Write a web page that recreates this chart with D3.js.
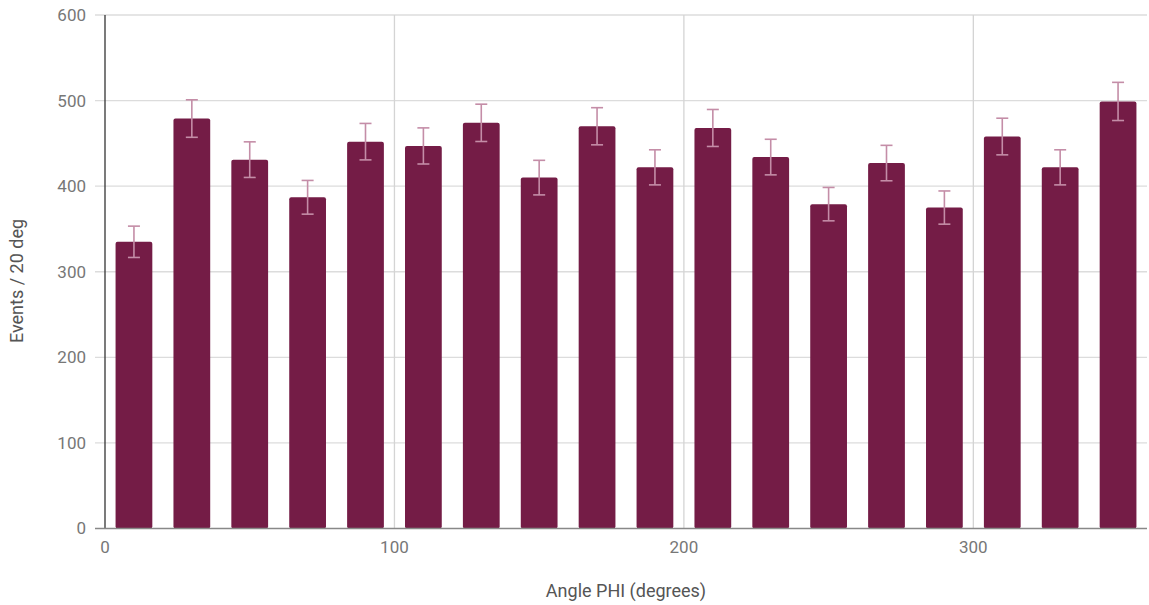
<!DOCTYPE html>
<html><head><meta charset="utf-8">
<script src="https://cdn.jsdelivr.net/npm/d3@7"></script>
<style>body{margin:0;background:#fff;}svg{display:block;font-family:Roboto,sans-serif;}</style>
</head><body>
<svg id="c" width="1149" height="605"></svg>
<script>
const angles = [10,30,50,70,90,110,130,150,170,190,210,230,250,270,290,310,330,350];
const events = [335,479,431,387,452,447,474,410,470,422,468,434,379,427,375,458,422,499];
const errors = [18.3,21.9,20.8,19.7,21.3,21.1,21.8,20.2,21.7,20.5,21.6,20.8,19.5,20.7,19.4,21.4,20.5,22.3];
const xTicks = [0,100,200,300];
const yTicks = [0,100,200,300,400,500,600];

const svg = d3.select("#c");
const L = 105, R = 1147, T = 15, B = 528.5;
const x = d3.scaleLinear().domain([0,360]).range([L,R]);
const y = d3.scaleLinear().domain([0,600]).range([B,T]);
const binW = 20, barFrac = 0.635;

// horizontal grid
svg.append("g").selectAll("line").data(yTicks.filter(d=>d>0)).join("line")
  .attr("x1",95).attr("x2",R).attr("y1",d=>y(d)).attr("y2",d=>y(d))
  .attr("stroke","#dcdcdc").attr("stroke-width",1.3);
// vertical grid
svg.append("g").selectAll("line").data(xTicks.filter(d=>d>0)).join("line")
  .attr("x1",d=>x(d)).attr("x2",d=>x(d)).attr("y1",T).attr("y2",B)
  .attr("stroke","#d4d4d4").attr("stroke-width",1.3);

// bars
const bw = x(binW*barFrac) - x(0);
svg.append("g").selectAll("rect").data(angles).join("rect")
  .attr("x",(d)=>x(d)-bw/2).attr("width",bw)
  .attr("y",(d,i)=>y(events[i])).attr("height",(d,i)=>B - y(events[i]))
  .attr("rx",2).attr("fill","#741c46");

// error bars
const eg = svg.append("g").attr("stroke","#c48da7").attr("stroke-width",1.6);
angles.forEach((a,i)=>{
  const cx = x(a), capW = 6;
  eg.append("line").attr("x1",cx).attr("x2",cx).attr("y1",y(events[i]+errors[i])).attr("y2",y(events[i]-errors[i]));
  eg.append("line").attr("x1",cx-capW).attr("x2",cx+capW).attr("y1",y(events[i]+errors[i])).attr("y2",y(events[i]+errors[i]));
  eg.append("line").attr("x1",cx-capW).attr("x2",cx+capW).attr("y1",y(events[i]-errors[i])).attr("y2",y(events[i]-errors[i]));
});

// axes lines
svg.append("line").attr("x1",L).attr("x2",L).attr("y1",T).attr("y2",B).attr("stroke","#333").attr("stroke-width",1.3);
svg.append("line").attr("x1",95).attr("x2",R).attr("y1",B).attr("y2",B).attr("stroke","#888").attr("stroke-width",1.5);

// y tick labels
svg.append("g").selectAll("text").data(yTicks).join("text")
  .attr("x",86).attr("y",d=>y(d)).attr("dy","0.35em").attr("text-anchor","end")
  .attr("font-size",17).attr("fill","#777").text(d=>d);
// x tick labels
svg.append("g").selectAll("text").data(xTicks).join("text")
  .attr("x",d=>x(d)).attr("y",553).attr("text-anchor","middle")
  .attr("font-size",17).attr("fill","#777").text(d=>d);

// axis titles
svg.append("text").attr("x",(L+R)/2).attr("y",597).attr("text-anchor","middle")
  .attr("font-size",18).attr("fill","#555").text("Angle PHI (degrees)");
svg.append("text").attr("transform",`translate(23,281) rotate(-90)`).attr("text-anchor","middle")
  .attr("font-size",18).attr("fill","#555").text("Events / 20 deg");
</script>
</body></html>
